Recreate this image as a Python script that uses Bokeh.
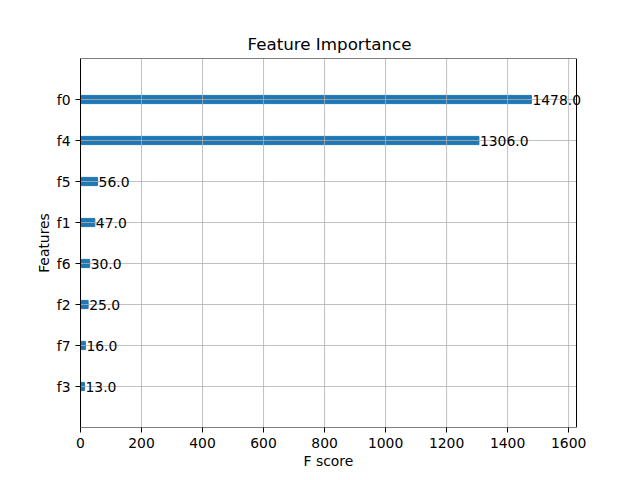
from bokeh.plotting import figure
from bokeh.models import ColumnDataSource, Range1d, FixedTicker, LabelSet, Span, Title
from bokeh.core.properties import value
from bokeh.embed import file_html
from bokeh.resources import INLINE

features = ["f3", "f7", "f2", "f6", "f1", "f5", "f4", "f0"]
scores = [13.0, 16.0, 25.0, 30.0, 47.0, 56.0, 1306.0, 1478.0]
x_ticks = [0, 200, 400, 600, 800, 1000, 1200, 1400, 1600]

ypos = list(range(len(features)))
src = ColumnDataSource(dict(y=ypos, x=scores, lbl=[f"{s:.1f}" for s in scores]))

xmax = max(scores) * 1.1
ylo, yhi = -1, len(features)
# axes box is 496px wide; the frame is widened to 540px so value labels may overhang the box
FRAME_W, BOX_W = 540, 496
FONT = "DejaVu Sans"
p = figure(width=640, height=480, output_backend="svg", toolbar_location=None,
           x_range=Range1d(0, xmax * FRAME_W / BOX_W), y_range=Range1d(ylo, yhi),
           min_border_left=80, min_border_right=640 - 80 - FRAME_W, min_border_top=58,
           min_border_bottom=53, title="Feature Importance")
p.title.align = "left"
p.title.text_font = FONT
p.title.text_font_size = "16.7px"
p.title.text_font_style = "normal"
p.title.text_color = "black"
p.title.standoff = 9
p.title.offset = 167

p.hbar(y="y", right="x", left=0, height=0.2, color="#1f77b4", source=src)

GRID = "#b0b0b0"
p.segment(x0=0, x1=xmax, y0=ypos, y1=ypos, line_color=GRID, line_width=0.8)
p.segment(x0=x_ticks, x1=x_ticks, y0=ylo, y1=yhi, line_color=GRID, line_width=0.8)
# box spines (top, bottom)
p.segment(x0=[0, 0], x1=[xmax, xmax], y0=[yhi, ylo], y1=[yhi, ylo],
          line_color="black", line_width=1)

labels = LabelSet(x="x", y="y", text="lbl", source=src, x_offset=1,
                  text_baseline="middle", text_font=value(FONT), text_font_size=value("13.9px"),
                  text_color="black")
p.add_layout(labels)
p.add_layout(Span(location=xmax, dimension="height", line_color="black", line_width=1))

p.xgrid.visible = False
p.ygrid.visible = False

p.xaxis.ticker = FixedTicker(ticks=x_ticks)
p.yaxis.ticker = FixedTicker(ticks=ypos)
p.yaxis.major_label_overrides = {i: f for i, f in zip(ypos, features)}
p.yaxis.axis_label = "Features"
for ax in (p.xaxis, p.yaxis):
    ax.axis_label_text_font = FONT
    ax.axis_label_text_font_size = "13.9px"
    ax.axis_label_text_font_style = "normal"
    ax.axis_label_text_color = "black"
    ax.major_label_text_font = FONT
    ax.major_label_text_font_size = "13.9px"
    ax.major_label_text_color = "black"
    ax.axis_line_color = "black"
    ax.major_tick_line_color = "black"
    ax.major_tick_out = 5
    ax.major_tick_in = 0
    ax.minor_tick_line_color = None
    ax.major_label_standoff = 5
p.xaxis.axis_line_color = None
p.yaxis.axis_label_standoff = 2
p.outline_line_color = None

xlab = Title(text="F score", align="left", offset=223, text_font=FONT,
             text_font_size="13.9px", text_font_style="normal", text_color="black",
             standoff=0)
p.add_layout(xlab, "below")

open("out.html", "w").write(file_html(p, INLINE))
